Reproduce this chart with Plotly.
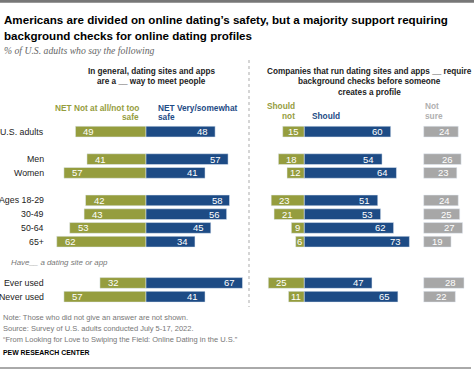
import plotly.graph_objects as go

W, H = 474, 371

categories = ["U.S. adults", "Men", "Women", "Ages 18-29", "30-49", "50-64", "65+",
              "Ever used", "Never used"]
unsafe = [49, 41, 57, 42, 43, 53, 62, 32, 57]
safe = [48, 57, 41, 58, 56, 45, 34, 67, 41]
should_not = [15, 18, 12, 23, 21, 9, 6, 25, 11]
should = [60, 54, 64, 51, 53, 62, 73, 47, 65]
not_sure = [24, 26, 23, 24, 25, 27, 19, 28, 22]

# layout: row slot for each category (gaps between groups)
slots = [0, 2, 3, 5, 6, 7, 8, 11, 12]

GREEN = "#959d3e"
NAVY = "#1d4b85"
GRAY = "#a7a7a7"
FONT = "Liberation Sans, Arial, sans-serif"

PXU = 1.44  # px per percentage point
ROW0, STEP = 131.6, 13.76


def px(x):
    return x / W


def py(y):
    return 1 - y / H


fig = go.Figure()
bw = 0.78
fig.add_trace(go.Bar(y=slots, x=[-v for v in unsafe], orientation="h", marker_color=GREEN,
                     width=bw, xaxis="x", yaxis="y", hoverinfo="skip"))
fig.add_trace(go.Bar(y=slots, x=safe, orientation="h", marker_color=NAVY,
                     width=bw, xaxis="x", yaxis="y", hoverinfo="skip"))
fig.add_trace(go.Bar(y=slots, x=[-v for v in should_not], orientation="h", marker_color=GREEN,
                     width=bw, xaxis="x2", yaxis="y", hoverinfo="skip"))
fig.add_trace(go.Bar(y=slots, x=should, orientation="h", marker_color=NAVY,
                     width=bw, xaxis="x2", yaxis="y", hoverinfo="skip"))
fig.add_trace(go.Bar(y=slots, x=not_sure, orientation="h", marker_color=GRAY,
                     width=bw, xaxis="x3", yaxis="y", hoverinfo="skip"))

ann = []


def lab(xref, x, y, text, anchor, shift):
    ann.append(dict(xref=xref, yref="y", x=x, y=y, text=str(text), showarrow=False,
                    xanchor=anchor, yanchor="middle", xshift=shift,
                    font=dict(family=FONT, size=9.5, color="white")))


for s, c, a, b, sn, sh, ns in zip(slots, categories, unsafe, safe, should_not, should, not_sure):
    ann.append(dict(xref="paper", yref="y", x=px(46), y=s, text=c, showarrow=False,
                    xanchor="right", yanchor="middle",
                    font=dict(family=FONT, size=8.8, color="#222")))
    lab("x", -a, s, a, "left", 6)
    lab("x", b, s, b, "right", -5)
    if sn * PXU < 24:
        lab("x2", -sn / 2, s, sn, "center", 0)
    else:
        lab("x2", -sn, s, sn, "left", 6)
    lab("x2", sh, s, sh, "right", -6)
    lab("x3", ns, s, ns, "right", -6)


def txt(x, y, text, size, color, anchor="left", bold=False, italic=False, family=FONT, align="left"):
    if bold:
        text = "<b>" + text + "</b>"
    if italic:
        text = "<i>" + text + "</i>"
    ann.append(dict(xref="paper", yref="paper", x=px(x), y=py(y), text=text, showarrow=False,
                    xanchor=anchor, yanchor="middle", align=align,
                    font=dict(family=family, size=size, color=color)))


TS = 11.6
txt(2, 19, "Americans are divided on online dating\u2019s safety, but a majority support requiring", TS, "#000", bold=True)
txt(2, 35.5, "background checks for online dating profiles", TS, "#000", bold=True)
txt(2, 50, "% of U.S. adults who say the following", 9.7, "#666", italic=True,
    family="Liberation Serif, Georgia, serif")

HS = 8.2
txt(151, 71, "In general, dating sites and apps", HS, "#222", anchor="center", bold=True)
txt(151, 81.7, "are a __ way to meet people", HS, "#222", anchor="center", bold=True)
txt(369.5, 71, "Companies that run dating sites and apps __ require", HS, "#222", anchor="center", bold=True)
txt(369.5, 81.7, "background checks before someone", HS, "#222", anchor="center", bold=True)
txt(369.5, 92.3, "creates a profile", HS, "#222", anchor="center", bold=True)

CS = 8.3
txt(141, 108, "NET Not at all/not too", CS, GREEN, anchor="right", bold=True)
txt(141, 117, "safe", CS, GREEN, anchor="right", bold=True)
txt(156, 108, "NET Very/somewhat", CS, NAVY, bold=True)
txt(156, 117, "safe", CS, NAVY, bold=True)
txt(297, 106, "Should", CS, GREEN, anchor="right", bold=True)
txt(297, 116, "not", CS, GREEN, anchor="right", bold=True)
txt(310, 116, "Should", CS, NAVY, bold=True)
txt(423, 106, "Not", CS, "#b0b0b0", bold=True)
txt(423, 116, "sure", CS, "#b0b0b0", bold=True)

txt(9, 262.7, "Have__ a dating site or app", 7.9, "#777", italic=True)

NS = 7.5
txt(1, 317.5, "Note: Those who did not give an answer are not shown.", NS, "#777")
txt(1, 328.3, "Source: Survey of U.S. adults conducted July 5-17, 2022.", NS, "#777")
txt(1, 339, "\u201cFrom Looking for Love to Swiping the Field: Online Dating in the U.S.\u201d", NS, "#777")
txt(1, 352.7, "PEW RESEARCH CENTER", 6.9, "#000", bold=True)

shapes = [
    dict(type="rect", xref="paper", yref="paper", x0=0, x1=1, y0=py(2.7), y1=1,
         fillcolor="#777", line_width=0),
    dict(type="line", xref="paper", yref="paper", x0=0, x1=px(471), y0=py(368), y1=py(368),
         line=dict(color="#555", width=1)),
    dict(type="line", xref="paper", yref="paper", x0=px(249), x1=px(249), y0=py(60), y1=py(307),
         line=dict(color="#c8c8c8", width=1.5, dash="dot")),
]

ytop = ROW0 - STEP
ybot = ROW0 + 13 * STEP

fig.update_layout(
    width=W, height=H, autosize=False,
    margin=dict(l=0, r=0, t=0, b=0),
    paper_bgcolor="white", plot_bgcolor="rgba(0,0,0,0)",
    barmode="relative", showlegend=False,
    annotations=ann, shapes=shapes,
    xaxis=dict(domain=[0, 250 / W], range=[-146 / PXU, (250 - 146) / PXU], visible=False,
               fixedrange=True, anchor="y"),
    xaxis2=dict(domain=[250 / W, 415 / W], range=[(250 - 304.3) / PXU, (415 - 304.3) / PXU],
                visible=False, fixedrange=True, anchor="y"),
    xaxis3=dict(domain=[415 / W, 1], range=[(415 - 423.7) / PXU, (474 - 423.7) / PXU],
                visible=False, fixedrange=True, anchor="y"),
    yaxis=dict(domain=[py(ybot), py(ytop)], range=[13, -1], visible=False, fixedrange=True),
)

fig.write_html("out.html", config={"displayModeBar": False},
               post_script="document.body.style.margin='0';document.body.style.padding='0';")
